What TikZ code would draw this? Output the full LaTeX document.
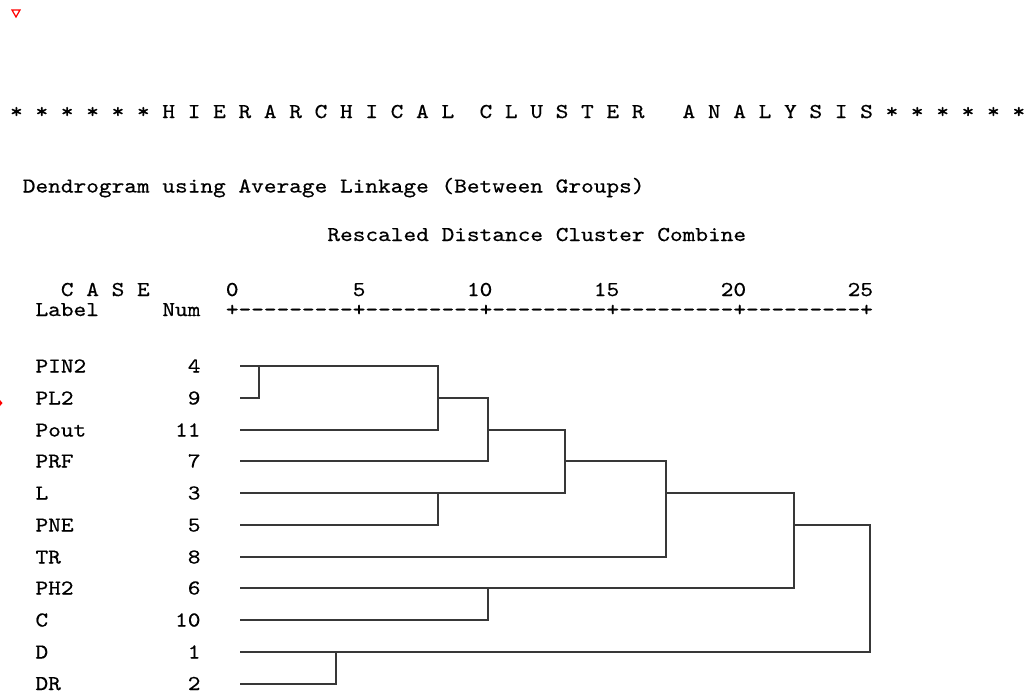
\documentclass[tikz,border=0pt]{standalone}
\usepackage{fontspec}
\setmonofont{lmmono10-regular.otf}[FakeStretch=1.14, FakeBold=0.5]
\usepackage{tikz}

\begin{document}
\begin{tikzpicture}[x=0.5pt, y=-0.5pt,
  every node/.style={inner sep=0pt, outer sep=0pt, anchor=base west, font=\ttfamily\fontsize{10.6}{12}\selectfont},
  num/.style={anchor=base east},
  link/.style={line width=1pt, color=black!78}]
\fill[white] (0,0) rectangle (1030,693);
\useasboundingbox (0,0) rectangle (1030,693);

\draw[red, line width=0.6pt] (12,10) -- (20,10) -- (16,17) -- cycle;
\fill[red] (0,400) -- (2.5,403) -- (0,406) -- cycle;

\node (title) at (10.1,118) {*~*~*~*~*~*~H~I~E~R~A~R~C~H~I~C~A~L~~C~L~U~S~T~E~R~~~A~N~A~L~Y~S~I~S~*~*~*~*~*~*};
\node (method) at (22.8,192.5) {Dendrogram using Average Linkage (Between Groups)};
\node (rescaled) at (327.4,241) {Rescaled Distance Cluster Combine};

\node (case) at (60.9,296) {C~A~S~E};
\node[num] (t0) at (238.54,296) {0};
\node[num] (t5) at (365.44,296) {5};
\node[num] (t10) at (492.34,296) {10};
\node[num] (t15) at (619.24,296) {15};
\node[num] (t20) at (746.14,296) {20};
\node[num] (t25) at (873.04,296) {25};
\node (label) at (35.5,316) {Label};
\node (num) at (162.4,316) {Num};
\node (ruler) at (225.85,316) {+---------+---------+---------+---------+---------+};

% cases, top to bottom
\node (lpin2) at (35.5,372.5) {PIN2};   \node[num] (n4) at (200.5,372.5) {4};
\node (lpl2) at (35.5,404.5) {PL2};     \node[num] (n9) at (200.5,404.5) {9};
\node (lpout) at (35.5,436.5) {Pout};   \node[num] (n11) at (200.5,436.5) {11};
\node (lprf) at (35.5,467.5) {PRF};     \node[num] (n7) at (200.5,467.5) {7};
\node (ll) at (35.5,499.5) {L};         \node[num] (n3) at (200.5,499.5) {3};
\node (lpne) at (35.5,531.5) {PNE};     \node[num] (n5) at (200.5,531.5) {5};
\node (ltr) at (35.5,563.5) {TR};       \node[num] (n8) at (200.5,563.5) {8};
\node (lph2) at (35.5,594.5) {PH2};     \node[num] (n6) at (200.5,594.5) {6};
\node (lc) at (35.5,626.5) {C};         \node[num] (n10) at (200.5,626.5) {10};
\node (ld) at (35.5,658.5) {D};         \node[num] (n1) at (200.5,658.5) {1};
\node (ldr) at (35.5,690) {DR};         \node[num] (n2) at (200.5,690) {2};

\coordinate (pin2) at (240,366);
\coordinate (pl2) at (240,398);
\coordinate (pout) at (240,430);
\coordinate (prf) at (240,461);
\coordinate (l) at (240,493);
\coordinate (pne) at (240,525);
\coordinate (tr) at (240,557);
\coordinate (ph2) at (240,588);
\coordinate (c) at (240,620);
\coordinate (d) at (240,652);
\coordinate (dr) at (240,684);

% joins, at the rescaled distance of each merge
\coordinate (m0) at (259,366);
\coordinate (m1) at (438,398);
\coordinate (m2) at (488,430);
\coordinate (m35) at (438,493);
\coordinate (m3) at (565,461);
\coordinate (m4) at (666,493);
\coordinate (m610) at (488,588);
\coordinate (m5) at (794,525);
\coordinate (m12) at (336,652);
\coordinate (m6) at (870,652);

\draw[link] (pl2) -| (m0);
\draw[link] (pin2) -| (m1) |- (pout);
\draw[link] (m1) -| (m2) |- (prf);
\draw[link] (pne) -| (m35);
\draw[link] (m2) -| (m3) |- (l);
\draw[link] (m3) -| (m4) |- (tr);
\draw[link] (c) -| (m610);
\draw[link] (m4) -| (m5) |- (ph2);
\draw[link] (dr) -| (m12);
\draw[link] (m5) -| (m6) -- (d);
\end{tikzpicture}
\end{document}
